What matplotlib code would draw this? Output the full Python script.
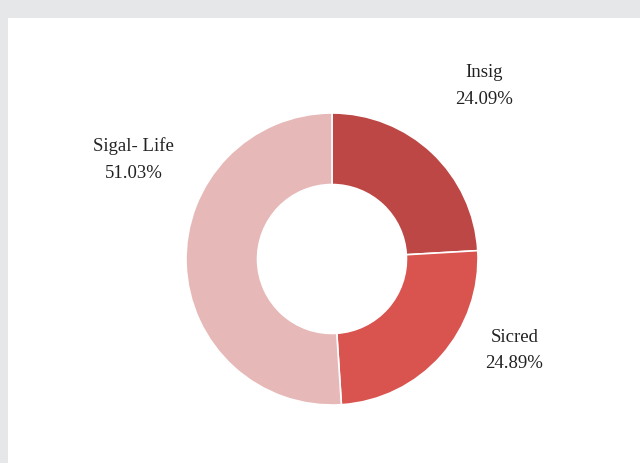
import matplotlib.pyplot as plt
from matplotlib.patches import Rectangle

# donut: share of each category
categories = ["Insig", "Sicred", "Sigal- Life"]
shares = [24.09, 24.89, 51.03]
colors = ["#bd4745", "#d9534f", "#e6b9b8"]

# label anchor points (data coords, radius = 1)
label_pos = [(1.04, 1.19), (1.25, -0.62), (-1.36, 0.69)]

fig = plt.figure(figsize=(6.4, 4.64), dpi=100)
fig.patch.set_facecolor("#e6e7e9")
# white panel inside the grey page
fig.patches.append(Rectangle((8 / 640, 0), 1, 1 - 19 / 464, transform=fig.transFigure,
                             facecolor="white", edgecolor="none", zorder=-5))

ax = fig.add_axes([186 / 640, 58 / 464, 292 / 640, 292 / 464])
ax.set_zorder(2)
ax.set_facecolor("none")
ax.pie(shares, colors=colors, startangle=90, counterclock=False,
       wedgeprops=dict(width=0.49, edgecolor="white", linewidth=1.2))
ax.set_xlim(-1, 1)
ax.set_ylim(-1, 1)

for name, val, (x, y) in zip(categories, shares, label_pos):
    ax.text(x, y, f"{name}\n{val:.2f}%", ha="center", va="center",
            family="Liberation Serif", fontsize=13.5, color="#222222",
            linespacing=1.75, clip_on=False)

fig.savefig("out.png", dpi=100)
